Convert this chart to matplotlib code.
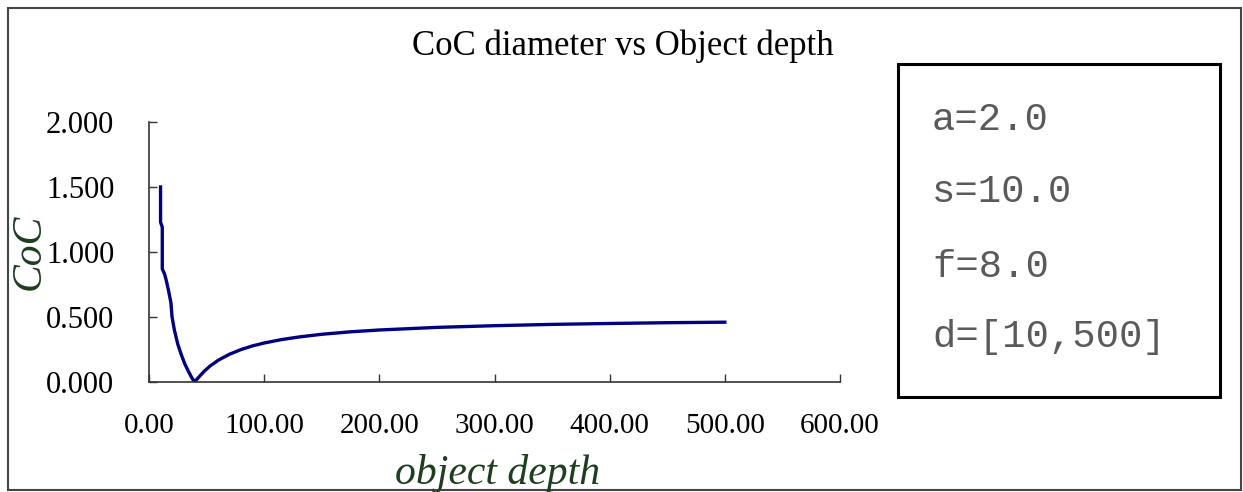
import matplotlib.pyplot as plt
from matplotlib.patches import Rectangle

# Datos
profundidad = [10, 10, 11.5, 11.5, 13.5, 15, 17, 19, 20, 22, 25, 28, 31, 34, 37, 39.5,
               44, 48, 53, 60, 70, 80, 90, 100, 115, 130, 150, 175, 200, 250, 300,
               350, 400, 450, 500]
coc = [1.50, 1.23, 1.19, 0.87, 0.83, 0.78, 0.70, 0.61, 0.50, 0.40, 0.29, 0.21,
       0.14, 0.085, 0.035, 0.0, 0.045, 0.083, 0.123, 0.167, 0.214, 0.25, 0.278, 0.30,
       0.326, 0.346, 0.367, 0.386, 0.40, 0.42, 0.433, 0.443, 0.45, 0.456, 0.46]

xticks = [0, 100, 200, 300, 400, 500, 600]
yticks = [0, 0.5, 1.0, 1.5, 2.0]
parametros = ["a=2.0", "s=10.0", "f=8.0", "d=[10,500]"]

serif = "Liberation Serif"
verde = "#1f3d1f"

fig = plt.figure(figsize=(12.43, 4.92), dpi=100)
ax = fig.add_axes([0.1199, 0.2236, 0.5559, 0.5285])

ax.plot(profundidad, coc, color="#000080", linewidth=2.4)

ax.set_xlim(0, 600)
ax.set_ylim(0, 2.0)
ax.set_xticks(xticks)
ax.set_yticks(yticks)
ax.set_xticklabels([f"{v:.2f}" for v in xticks], fontfamily=serif, fontsize=21)
ax.set_yticklabels([f"{v:.3f}" for v in yticks], fontfamily=serif, fontsize=22)
ax.tick_params(direction="in", length=6, width=1, color="#333333")
ax.tick_params(axis="x", pad=22)
ax.tick_params(axis="y", pad=25)

ax.spines["top"].set_visible(False)
ax.spines["right"].set_visible(False)
for s in ["left", "bottom"]:
    ax.spines[s].set_color("#333333")
    ax.spines[s].set_linewidth(1.2)

# Titulo y etiquetas
fig.text(623 / 1243, 1 - 46 / 492, "CoC diameter vs Object depth", ha="center",
         va="center", fontfamily=serif, fontsize=25)
fig.text(498 / 1243, 1 - 484 / 492, "object depth", ha="center", va="baseline",
         fontfamily=serif, fontstyle="italic", fontsize=30, color=verde)
fig.text(29 / 1243, 1 - 252 / 492, "CoC", ha="center", va="center", rotation=90,
         fontfamily=serif, fontstyle="italic", fontsize=30, color=verde)

# Cuadro de parametros
caja = Rectangle((898 / 1243, 1 - 397 / 492), (1220 - 898) / 1243, (397 - 64) / 492,
                 transform=fig.transFigure, fill=False, edgecolor="black", linewidth=2.2)
fig.patches.append(caja)
ys = [120, 192, 267, 337]
for texto, y in zip(parametros, ys):
    fig.text(932 / 1243, 1 - y / 492, texto, ha="left", va="center",
             fontfamily="Liberation Mono", fontsize=28, color="#5a5a5a")

# Marco exterior
marco = Rectangle((8 / 1243, 2 / 492), 1233 / 1243, 482 / 492, transform=fig.transFigure,
                  fill=False, edgecolor="#444444", linewidth=1.5)
fig.patches.append(marco)

fig.savefig("out.png", dpi=100)
